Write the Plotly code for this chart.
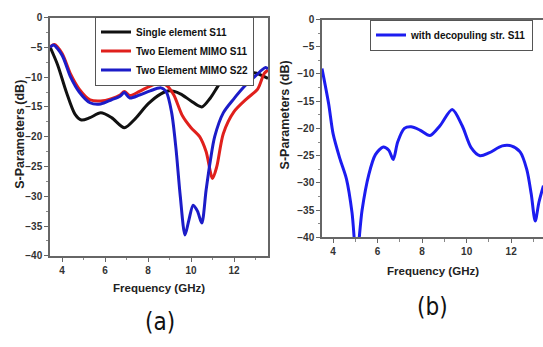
import plotly.graph_objects as go

# ---- data ----
freq_single = [3.45, 3.8, 4.2, 4.6, 4.9, 5.3, 5.8, 6.3, 6.9, 7.4, 8.0, 8.6, 9.0, 9.5, 10.0, 10.5, 10.9, 11.4, 11.9, 12.5, 13.0, 13.58]
s11_single = [-5.0, -8.0, -12.5, -16.2, -17.2, -16.8, -16.0, -16.8, -18.5, -17.0, -14.5, -12.8, -12.3, -12.8, -14.0, -15.0, -13.5, -10.8, -9.5, -9.2, -9.3, -10.2]

freq_mimo_s11 = [3.45, 3.65, 4.0, 4.4, 4.8, 5.3, 5.8, 6.3, 6.7, 6.9, 7.15, 7.6, 8.1, 8.6, 8.9, 9.2, 9.6, 10.0, 10.4, 10.7, 11.0, 11.2, 11.5, 12.0, 12.6, 13.1, 13.4, 13.58]
s11_mimo = [-4.9, -4.5, -6.0, -9.5, -12.0, -13.8, -14.0, -13.6, -13.0, -12.4, -13.1, -12.4, -11.5, -10.9, -11.5, -13.0, -16.5, -18.5, -20.0, -22.5, -27.0, -25.0, -19.5, -15.8, -13.6, -12.0, -9.4, -8.8]

freq_mimo_s22 = [3.45, 3.6, 4.0, 4.4, 4.8, 5.3, 5.8, 6.3, 6.7, 6.9, 7.15, 7.6, 8.1, 8.6, 8.85, 9.1, 9.3, 9.5, 9.72, 9.9, 10.1, 10.3, 10.5, 10.7, 10.9, 11.1, 11.5, 12.0, 12.5, 13.0, 13.45, 13.58]
s22_mimo = [-5.0, -4.6, -6.3, -10.0, -12.5, -14.3, -14.5, -13.8, -13.2, -12.6, -13.5, -13.0, -12.3, -11.8, -12.5, -16.0, -22.0, -30.0, -36.5, -34.0, -31.5, -32.5, -34.5, -29.0, -24.0, -20.0, -16.0, -13.6, -11.5, -9.8, -8.4, -8.6]

freq_decoup = [3.5, 3.8, 4.0, 4.3, 4.6, 4.85, 5.05, 5.3, 5.6, 5.9, 6.25, 6.5, 6.7, 6.9, 7.2, 7.5, 7.9, 8.35, 8.8, 9.35, 9.8, 10.2, 10.6, 11.0, 11.6, 12.0, 12.4, 12.7, 12.9, 13.08, 13.25, 13.45]
s11_decoup = [-9.0, -15.5, -21.0, -25.5, -29.3, -35.5, -44.0, -35.0, -28.5, -24.8, -23.4, -24.0, -25.7, -22.5, -20.0, -19.7, -20.3, -21.3, -19.5, -16.5, -19.5, -23.5, -25.0, -24.5, -23.2, -23.2, -24.3, -27.5, -32.0, -37.0, -33.5, -30.5]

x_ticks = [4, 6, 8, 10, 12]
y_ticks = [0, -5, -10, -15, -20, -25, -30, -35, -40]

W, H = 543, 347
FONT = "Liberation Sans, Arial, sans-serif"
COND = "DejaVu Sans Condensed, Liberation Sans Narrow, Arial Narrow, Liberation Sans"

fig = go.Figure()
fig.add_trace(go.Scatter(x=freq_single, y=s11_single, mode="lines", name="Single element S11",
                         line=dict(color="#111111", width=3, shape="spline", smoothing=0.8),
                         xaxis="x", yaxis="y", legend="legend"))
fig.add_trace(go.Scatter(x=freq_mimo_s11, y=s11_mimo, mode="lines", name="Two Element MIMO S11",
                         line=dict(color="#e0201c", width=3, shape="spline", smoothing=0.8),
                         xaxis="x", yaxis="y", legend="legend"))
fig.add_trace(go.Scatter(x=freq_mimo_s22, y=s22_mimo, mode="lines", name="Two Element MIMO S22",
                         line=dict(color="#1c1cc8", width=3, shape="spline", smoothing=0.8),
                         xaxis="x", yaxis="y", legend="legend"))
fig.add_trace(go.Scatter(x=freq_decoup, y=s11_decoup, mode="lines", name="with decopuling str. S11",
                         line=dict(color="#1c1cf0", width=3, shape="spline", smoothing=0.8),
                         xaxis="x2", yaxis="y2", legend="legend2"))

def px_x(p):
    return p / W

def px_y(p):
    return (H - p) / H

axis_common = dict(
    showgrid=False, zeroline=False, showline=True, linecolor="#666666", linewidth=1.5,
    ticks="outside", ticklen=4, tickwidth=1.2, tickcolor="#666666",
    tickfont=dict(family=FONT, size=10, color="#333333", weight="bold"),
    minor=dict(ticks="outside", ticklen=2.5, tickcolor="#888888", tickwidth=1),
)

legend_font = dict(family=FONT, size=10, color="#111111", weight="bold")

fig.update_layout(
    width=W, height=H, margin=dict(l=0, r=0, t=0, b=0),
    paper_bgcolor="white", plot_bgcolor="white",
    showlegend=True,
    xaxis=dict(domain=[px_x(50), px_x(268)], range=[3.44, 13.58], anchor="y",
               tickvals=x_ticks, mirror=True, minor_dtick=1, minor_tick0=3, **axis_common),
    yaxis=dict(domain=[px_y(259), px_y(13)], range=[-40, 0], anchor="x",
               tickvals=y_ticks, mirror=True, minor_dtick=2.5, minor_tick0=0, **axis_common),
    xaxis2=dict(domain=[px_x(322), 1.0], range=[3.5, 13.43], anchor="y2",
                tickvals=x_ticks, mirror=True, minor_dtick=1, minor_tick0=3, **axis_common),
    yaxis2=dict(domain=[px_y(240), px_y(15)], range=[-40, 0], anchor="x2",
                tickvals=y_ticks, mirror=False, minor_dtick=2.5, minor_tick0=0, **axis_common),
    legend=dict(x=px_x(95), y=px_y(12), xanchor="left", yanchor="top",
                bgcolor="white", bordercolor="#555555", borderwidth=1,
                font=legend_font, tracegroupgap=0, itemwidth=30),
    legend2=dict(x=px_x(370), y=px_y(15), xanchor="left", yanchor="top",
                 bgcolor="white", bordercolor="#555555", borderwidth=1,
                 font=legend_font, itemwidth=30),
)

xt_font = dict(family=FONT, size=11.5, color="#222222", weight="bold")
yt_font = dict(family=FONT, size=12.5, color="#222222", weight="bold")
lab_font = dict(family=COND, size=24, color="#111111")
ann = [
    dict(text="Frequency (GHz)", x=px_x(159), y=px_y(292), font=xt_font),
    dict(text="Frequency (GHz)", x=px_x(433), y=px_y(275), font=xt_font),
    dict(text="S-Parameters (dB)", x=px_x(20), y=px_y(134), textangle=-90, font=yt_font),
    dict(text="S-Parameters (dB)", x=px_x(285), y=px_y(114), textangle=-90, font=yt_font),
    dict(text="(a)", x=px_x(160), y=px_y(327), font=lab_font),
    dict(text="(b)", x=px_x(432), y=px_y(312), font=lab_font),
]
for a in ann:
    fig.add_annotation(xref="paper", yref="paper", showarrow=False,
                       xanchor="center", yanchor="middle", **a)

fig.write_html("out.html")
